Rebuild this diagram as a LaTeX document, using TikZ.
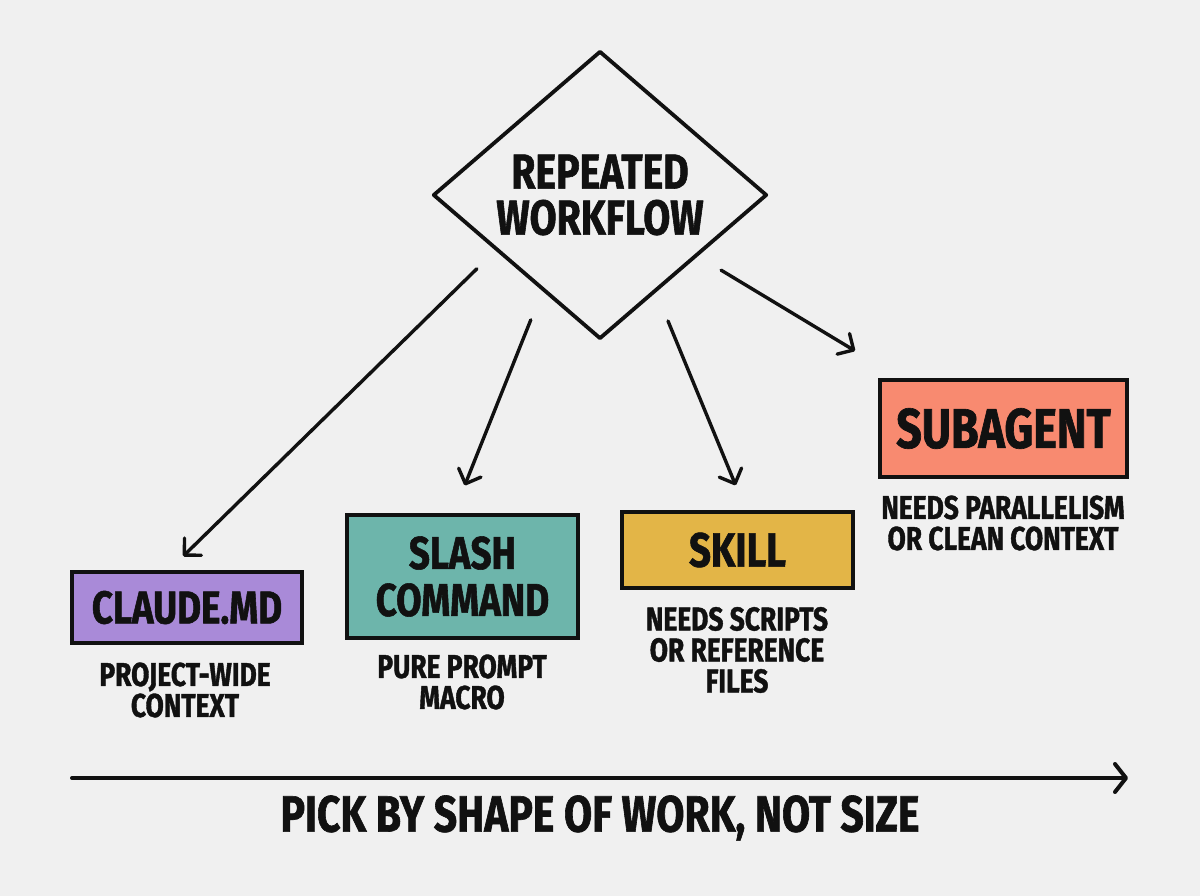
\documentclass[tikz,border=0pt]{standalone}
\usepackage{fontspec}
\usetikzlibrary{shapes.geometric,arrows.meta}
\newfontfamily\hand{Fira Sans}[FakeStretch=0.8, BoldFeatures={FakeBold=1.2}]
\definecolor{bg}{HTML}{F0F0F0}
\definecolor{ink}{HTML}{111111}
\definecolor{cpurple}{HTML}{A98AD8}
\definecolor{cteal}{HTML}{6DB5AB}
\definecolor{cmustard}{HTML}{E3B547}
\definecolor{csalmon}{HTML}{F88A70}
\tikzset{
  dia/.style={shape=diamond, draw=ink, line width=3.8pt, line join=round, minimum width=334pt, minimum height=280pt, inner sep=0pt, align=center, text=ink, font={\hand\bfseries\fontsize{49}{46}\selectfont}},
  box/.style={draw=ink, line width=3.5pt, inner sep=0pt, align=center, text=ink},
  captxt/.style={align=center, text=ink, inner sep=0pt, font={\hand\bfseries\fontsize{33}{31}\selectfont}},
  arr/.style={draw=ink, line width=3.4pt, line cap=round, -{Straight Barb[length=12pt,width=24pt,round]}},
  axis/.style={draw=ink, line width=4pt, line cap=round, -{Straight Barb[length=11pt,width=28pt,round]}}
}
\begin{document}
\begin{tikzpicture}[x=1pt,y=-1pt]
\fill[bg] (0,0) rectangle (1200,896);
\useasboundingbox (0,0) rectangle (1200,896);

\node[dia] (dia) at (600,195) {REPEATED\\WORKFLOW};

\node[box, fill=cpurple, minimum width=230pt, minimum height=71pt, font={\hand\bfseries\fontsize{46}{44}\selectfont}] (claude) at (187,607.5) {CLAUDE.MD};
\node[box, fill=cteal, minimum width=231pt, minimum height=123pt, font={\hand\bfseries\fontsize{46}{47}\selectfont}] (slash) at (462.5,576.5) {SLASH\\COMMAND};
\node[box, fill=cmustard, minimum width=231pt, minimum height=76pt, font={\hand\bfseries\fontsize{48}{48}\selectfont}] (skill) at (737.5,550) {SKILL};
\node[box, fill=csalmon, minimum width=247pt, minimum height=97pt, font={\hand\bfseries\fontsize{56}{54}\selectfont}] (sub) at (1003.5,428.5) {SUBAGENT};

\node[captxt] (cap1) at (185,690) {PROJECT-WIDE\\CONTEXT};
\node[captxt] (cap2) at (462,682) {PURE PROMPT\\MACRO};
\node[captxt] (cap3) at (737,650) {NEEDS SCRIPTS\\OR REFERENCE\\FILES};
\node[captxt] (cap4) at (1003,523) {NEEDS PARALLELISM\\OR CLEAN CONTEXT};

\draw[arr, shorten <=26pt, shorten >=20pt] (dia.208.5) -- (claude.116.4);
\draw[arr, shorten <=31pt, shorten >=30pt] (dia.239.5) -- (slash.98.1);
\draw[arr, shorten <=31pt, shorten >=27pt] (dia.300.5) -- (skill.78.8);
\draw[arr, shorten <=27pt, shorten >=53pt] (dia.328.7) -- (sub.154.3);

\coordinate (axL) at (72,778);
\coordinate (axR) at (1128,778);
\draw[axis] (axL) -- (axR);
\node[text=ink, inner sep=0pt, font={\hand\bfseries\fontsize{51}{50}\selectfont}] (pick) at (600,818) {PICK BY SHAPE OF WORK, NOT SIZE};
\end{tikzpicture}
\end{document}
